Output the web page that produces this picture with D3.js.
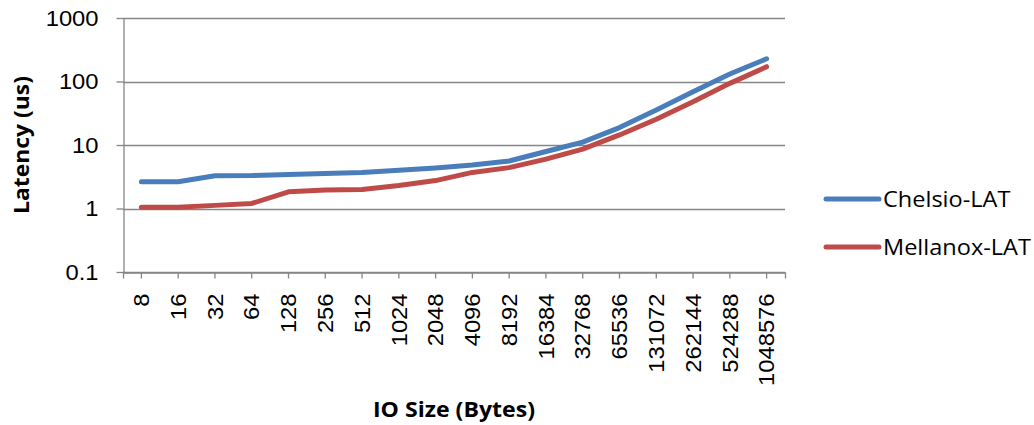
<!DOCTYPE html>
<html>
<head>
<meta charset="utf-8">
<script src="https://cdn.jsdelivr.net/npm/d3@7"></script>
<style>
  body { margin: 0; background: #fff; }
  svg { font-family: "Open Sans", sans-serif; }
</style>
</head>
<body>
<div id="chart"></div>
<script>
// IO sizes (bytes) on the x axis
var ioSizes = ["8", "16", "32", "64", "128", "256", "512", "1024", "2048", "4096",
  "8192", "16384", "32768", "65536", "131072", "262144", "524288", "1048576"]
// latency in microseconds
var chelsioLat = [2.63, 2.63, 3.27, 3.3, 3.43, 3.55, 3.68, 4.0, 4.35, 4.85,
  5.6, 7.9, 11.1, 18.8, 35.6, 69, 131, 228]
var mellanoxLat = [1.05, 1.05, 1.12, 1.2, 1.83, 1.95, 1.99, 2.3, 2.75, 3.7,
  4.4, 5.98, 8.6, 14.4, 25.4, 48, 93.5, 171]
var seriesNames = ["Chelsio-LAT", "Mellanox-LAT"]
var seriesColors = ["#4a7ebb", "#be4b48"]
var yTicks = [0.1, 1, 10, 100, 1000]

var width = 1034, height = 425
var margin = { top: 18, right: 249, bottom: 153, left: 123 }
var stretch = 1.08 // text in the original is a bit wider than Open Sans

var svg = d3.select("#chart").append("svg")
  .attr("width", width)
  .attr("height", height)

var x = d3.scaleBand()
  .domain(ioSizes)
  .range([margin.left, width - margin.right])

var y = d3.scaleLog()
  .domain([0.1, 1000])
  .range([height - margin.bottom, margin.top])

var series = seriesNames.map((name, i) => ({
  name: name,
  color: seriesColors[i],
  values: (i == 0 ? chelsioLat : mellanoxLat).map((v, j) => ({ size: ioSizes[j], v: v }))
}))

// gridlines
svg.append("g")
  .selectAll("line")
  .data(yTicks)
  .enter().append("line")
  .attr("x1", margin.left)
  .attr("x2", width - margin.right)
  .attr("y1", d => Math.round(y(d)) + 0.5)
  .attr("y2", d => Math.round(y(d)) + 0.5)
  .style("stroke", "#868686")
  .style("stroke-width", 1.3)

// y axis
var yAxis = svg.append("g")
  .attr("transform", `translate(${margin.left + 0.5}, 0)`)
  .call(d3.axisLeft(y).tickValues(yTicks).tickFormat(d => String(d)).tickSize(7).tickSizeOuter(0))
yAxis.selectAll(".domain").style("stroke", "#868686").style("stroke-width", 1.3)
yAxis.selectAll(".tick line").style("stroke", "#868686").style("stroke-width", 1.3)
yAxis.selectAll("text")
  .style("font-size", "22px")
  .style("fill", "#000")
  .attr("transform", `scale(${stretch},1)`)
  .attr("x", -25 / stretch)

// x axis
var xAxis = svg.append("g")
  .attr("transform", `translate(0, ${Math.round(y(0.1)) + 0.5})`)
  .call(d3.axisBottom(x).tickSize(6).tickSizeOuter(6))
xAxis.selectAll(".domain").style("stroke", "#868686").style("stroke-width", 1.3)
xAxis.selectAll(".tick line").style("stroke", "#868686").style("stroke-width", 1.3)
xAxis.selectAll("text")
  .style("font-size", "22px")
  .style("fill", "#000")
  .style("text-anchor", "end")
  .attr("transform", `rotate(-90) scale(${stretch},1)`)
  .attr("x", -21 / stretch)
  .attr("y", 0)
  .attr("dy", "0.35em")

// lines
var line = d3.line()
  .x(d => x(d.size) + x.bandwidth() / 2)
  .y(d => y(d.v))

svg.append("g")
  .selectAll("path")
  .data(series)
  .enter().append("path")
  .attr("d", d => line(d.values))
  .style("fill", "none")
  .style("stroke", d => d.color)
  .style("stroke-width", 5)
  .style("stroke-linecap", "round")
  .style("stroke-linejoin", "round")

// axis titles
svg.append("text")
  .attr("transform", `translate(29, ${(margin.top + height - margin.bottom) / 2}) rotate(-90) scale(1.04,1)`)
  .style("text-anchor", "middle")
  .style("font-size", "22px")
  .style("font-weight", "bold")
  .text("Latency (us)")

svg.append("text")
  .attr("transform", `translate(${(margin.left + width - margin.right) / 2}, 417) scale(1.05,1)`)
  .style("text-anchor", "middle")
  .style("font-size", "22px")
  .style("font-weight", "bold")
  .text("IO Size (Bytes)")

// legend
var legend = svg.append("g")
  .selectAll("g")
  .data(series)
  .enter().append("g")
  .attr("transform", (d, i) => `translate(826, ${199 + i * 48})`)

legend.append("line")
  .attr("x1", 0)
  .attr("x2", 53)
  .style("stroke", d => d.color)
  .style("stroke-width", 5)
  .style("stroke-linecap", "round")

legend.append("text")
  .attr("transform", `translate(57, 0) scale(1.07,1)`)
  .attr("dy", "0.35em")
  .style("font-size", "22px")
  .text(d => d.name)
</script>
</body>
</html>
